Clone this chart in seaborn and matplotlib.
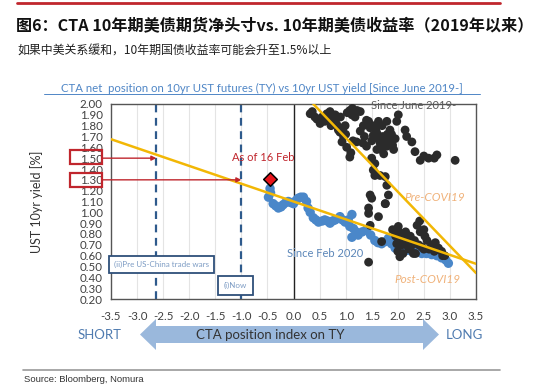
import numpy as np
import pandas as pd
import seaborn as sns
import matplotlib.pyplot as plt
from matplotlib.patches import Rectangle, Polygon
from matplotlib.lines import Line2D

# since June 2019 (black dots)
pre_x = [0.32, 0.41, 0.51, 0.64, 0.70, 0.76, 0.83, 0.89, 0.93, 0.96, 1.08, 1.08, 1.18, 1.21, 1.28,
         1.28, 1.40, 1.40, 1.44, 1.47, 1.50, 1.53, 1.56, 1.60, 1.66, 1.66, 1.73, 1.76, 1.79, 1.79,
         1.85, 1.92, 1.95, 2.01, 2.14, 2.27, 2.33, 2.43, 2.59, 2.75, 3.10, 1.53, 1.56, 1.76, 1.79,
         1.82, 1.76, 1.47, 1.50, 1.44, 1.44, 1.63, 1.47, 1.69, 2.01, 2.04, 1.98, 2.11, 2.24, 2.20,
         2.37, 2.43, 2.56, 2.65, 2.46, 2.04, 2.30, 2.78, 2.84, 1.44, 1.95, 2.14, 0.58, 0.99, 1.12,
         1.34, 1.62, 2.17, 2.50, 2.70, 2.90,
         0.36, 0.45, 0.55, 0.60, 0.68, 0.72, 0.80, 0.86, 0.95, 1.00, 1.03, 1.13, 1.15, 1.22, 0.80,
         0.90, 1.02, 1.10, 1.14, 1.33, 1.36, 1.50, 1.55, 1.58, 1.63, 1.70, 1.71, 1.82, 1.88, 1.90,
         1.98, 1.68, 1.60, 1.74, 1.80,
         1.90, 1.96, 2.06, 2.08, 2.15, 2.18, 2.28, 2.32, 2.40, 2.50, 2.52, 2.60, 2.70, 2.72, 2.86,
         2.00, 2.10, 2.22, 2.34, 2.42, 2.50]
pre_y = [1.91, 1.88, 1.82, 1.91, 1.93, 1.87, 1.81, 1.74, 1.65, 1.70, 1.94, 1.51, 1.88, 1.65, 1.75,
         1.93, 1.85, 1.61, 1.84, 1.78, 1.50, 1.71, 1.45, 1.73, 1.64, 1.34, 1.54, 1.33, 1.84, 1.61,
         1.76, 1.58, 1.68, 1.90, 1.76, 1.65, 1.56, 1.48, 1.50, 1.53, 1.48, 1.39, 1.34, 1.08, 1.25,
         1.16, 1.08, 1.16, 1.13, 1.04, 0.99, 0.96, 0.88, 0.73, 0.87, 0.81, 0.71, 0.74, 0.78, 0.68,
         0.88, 0.82, 0.74, 0.70, 0.68, 0.59, 0.62, 0.67, 0.64, 0.54, 0.81, 0.79, 1.86, 1.80, 1.90,
         1.80, 1.68, 1.70, 1.52, 1.50, 0.60,
         1.93, 1.86, 1.88, 1.84, 1.85, 1.80, 1.84, 1.76, 1.78, 1.72, 1.92, 1.96, 1.91, 1.94, 1.90,
         1.88, 1.60, 1.55, 1.66, 1.64, 1.70, 1.66, 1.80, 1.76, 1.84, 1.80, 1.70, 1.66, 1.72, 1.62,
         1.84, 1.58, 1.58, 1.64, 1.72,
         0.84, 0.78, 0.76, 0.70, 0.82, 0.72, 0.70, 0.74, 0.70, 0.66, 0.78, 0.66, 0.64, 0.72, 0.60,
         0.64, 0.62, 0.66, 0.62, 0.92, 0.84]

# since Feb 2020 (blue dots)
post_x = [-0.45, -0.48, -0.44, -0.39, -0.34, -0.29, -0.24, -0.20, -0.15, -0.10, -0.05, 0.00, 0.05,
          0.09, 0.14, 0.19, 0.25, 0.28, 0.32, 0.38, 0.43, 0.48, 0.55, 0.60, 0.65, 0.70, 0.75, 0.80,
          0.89, 0.94, 0.99, 1.05, 1.08, 1.12, 1.12, 1.15, 1.20, 1.24, 1.32, 1.40, 1.48, 1.56, 1.62,
          1.69, 1.76, 1.82, 1.88, 1.95, 2.03, 2.11, 2.19, 2.27, 2.36, 2.46, 2.55, 2.65, 2.75, 2.84,
          2.92, 2.97]
post_y = [1.22, 1.14, 1.18, 1.08, 1.06, 1.04, 1.05, 1.07, 1.09, 1.10, 1.09, 1.08, 1.11, 1.13, 1.14,
          1.14, 1.10, 1.04, 1.00, 0.95, 0.93, 0.91, 0.92, 0.93, 0.92, 0.90, 0.92, 0.93, 0.96, 0.93,
          0.91, 0.93, 0.87, 0.98, 0.77, 0.85, 0.82, 0.79, 0.82, 0.84, 0.79, 0.74, 0.72, 0.71, 0.73,
          0.76, 0.71, 0.67, 0.66, 0.65, 0.65, 0.64, 0.63, 0.62, 0.62, 0.61, 0.60, 0.58, 0.56, 0.53]

# trend lines
postcovid_x = [-3.5, 3.5]
postcovid_y = [1.675, 0.525]
precovid_x = [0.38, 3.5]
precovid_y = [2.0, 0.44]

scenario_x = [-2.63, -1.0]
scenario_y = [1.50, 1.30]
latest = (-0.46, 1.31)

W, H = 550, 389
fig = plt.figure(figsize=(W / 100, H / 100), dpi=100)
sns.set_style('white')
plt.rcParams['font.family'] = ['Lato', 'DejaVu Sans']
cjk = ['Noto Sans CJK SC', 'DejaVu Sans']


def fx(px):
    return px / W


def fy(py):
    return 1 - py / H


ax = fig.add_axes([fx(111), fy(299), fx(476) - fx(111), fy(104) - fy(299)])

ax.set_xlim(-3.5, 3.5)
ax.set_ylim(0.2, 2.0)
for gx in np.arange(-3.0, 3.51, 0.5):
    ax.axvline(gx, color='#e4e4e4', lw=0.8, zorder=0)
ax.axvline(0, color='#222222', lw=1.0, zorder=1)

for v in scenario_x:
    ax.axvline(v, color='#2e5a8c', lw=1.6, ls=(0, (3.5, 2.5)), zorder=2)

sns.scatterplot(x=post_x, y=post_y, ax=ax, color='#4a87c9', s=46, edgecolor='none', zorder=3)
sns.scatterplot(x=pre_x, y=pre_y, ax=ax, color='#2b2b2b', s=40, edgecolor='none', zorder=3)
sns.lineplot(x=postcovid_x, y=postcovid_y, ax=ax, color='#f2b705', lw=1.8, zorder=4)
sns.lineplot(x=precovid_x, y=precovid_y, ax=ax, color='#f2b705', lw=1.8, zorder=4)

ax.scatter([latest[0]], [latest[1]], marker='D', s=48, color='#e8141b', edgecolor='black',
           linewidth=1.1, zorder=6)
ax.text(-1.18, 1.51, 'As of 16 Feb', color='#c0262d', fontsize=8, ha='left', va='center')
ax.text(2.3, 1.985, 'Since June 2019-', color='#5a5a5a', fontsize=8, ha='center', va='center',
        zorder=7)
ax.text(2.12, 1.14, 'Pre-COVI19', color='#f0b27a', fontsize=8.5, style='italic', ha='left', va='center')
ax.text(1.93, 0.38, 'Post-COVI19', color='#f0b27a', fontsize=8.5, style='italic', ha='left', va='center')
ax.text(-0.12, 0.62, 'Since Feb 2020', color='#5b86b8', fontsize=8, ha='left', va='center', zorder=7)

# scenario boxes
ax.text(-3.44, 0.515, '(ii)Pre US-China trade wars', color='#7d9cc4', fontsize=5.8, ha='left', va='center',
        bbox=dict(boxstyle='square,pad=0.6', fc='white', ec='#2e4f7a', lw=1.3), clip_on=False, zorder=8)
ax.text(-1.34, 0.325, '(i)Now', color='#7d9cc4', fontsize=5.8, ha='left', va='center',
        bbox=dict(boxstyle='square,pad=0.75', fc='white', ec='#2e4f7a', lw=1.3), clip_on=False, zorder=8)

# red arrows from the boxed tick labels
for sx, sy in zip(scenario_x, scenario_y):
    ax.annotate('', xy=(sx, sy), xytext=(-3.68, sy), xycoords='data', annotation_clip=False,
                arrowprops=dict(arrowstyle='-|>', color='#c0262d', lw=1.0, mutation_scale=7,
                                shrinkA=0, shrinkB=0), zorder=5)

ax.set_yticks(np.round(np.arange(0.2, 2.001, 0.1), 2))
ax.set_yticklabels(['%.2f' % t for t in np.arange(0.2, 2.001, 0.1)])
ax.set_xticks(np.arange(-3.5, 3.51, 0.5))
ax.set_xticklabels(['%.1f' % t for t in np.arange(-3.5, 3.51, 0.5)])
ax.tick_params(axis='y', labelsize=8.3, length=0, pad=6, labelcolor='#404040')
ax.tick_params(axis='x', labelsize=8.3, length=0, pad=9, labelcolor='#404040')
ax.set_ylabel('UST 10yr yield [%]', fontsize=9, color='#333333')
ax.yaxis.set_label_coords((43 - 111) / 365, 0.5)
for sp in ax.spines.values():
    sp.set_color('#555555')
    sp.set_linewidth(1.0)

for py0 in (150, 173):
    fig.patches.append(Rectangle((fx(70), fy(py0 + 13.5)), fx(32), 13.5 / H, transform=fig.transFigure,
                                 fill=False, ec='#c0262d', lw=1.6))

# direction arrow under the axis
band_top, band_bot, head_top, head_bot = 326, 343, 319, 350
xs_l, xe_l, xe_r, xs_r = 140, 156, 423, 439
pts = [(xs_l, (head_top + head_bot) / 2), (xe_l, head_top), (xe_l, band_top), (xe_r, band_top),
       (xe_r, head_top), (xs_r, (head_top + head_bot) / 2), (xe_r, head_bot), (xe_r, band_bot),
       (xe_l, band_bot), (xe_l, head_bot)]
fig.patches.append(Polygon([(fx(a), fy(b)) for a, b in pts], closed=True, transform=fig.transFigure,
                           fc='#9ab8dc', ec='none'))
fig.text(fx(270), fy(335), 'CTA position index on TY', fontsize=9.5, color='#333333', ha='center', va='center')
fig.text(fx(78), fy(335), 'SHORT', fontsize=9.5, color='#4f7bb0', ha='left', va='center')
fig.text(fx(446), fy(335), 'LONG', fontsize=9.5, color='#4f7bb0', ha='left', va='center')

# chart title
fig.text(fx(262), fy(88), 'CTA net  position on 10yr UST futures (TY) vs 10yr UST yield [Since June 2019-]',
         fontsize=8.2, color='#4f86c6', ha='center', va='center')
fig.lines.append(Line2D([fx(44), fx(480)], [fy(94), fy(94)], transform=fig.transFigure, color='#4f86c6', lw=0.7))

# header and footer
fig.lines.append(Line2D([fx(17), fx(500)], [fy(3), fy(3)], transform=fig.transFigure, color='#c0262d', lw=2.0))
fig.text(fx(16), fy(26), '图6：CTA 10年期美债期货净头寸vs. 10年期美债收益率（2019年以来）', family=cjk,
         fontsize=11.6, fontweight='bold', color='#111111', ha='left', va='center')
fig.text(fx(17), fy(51), '如果中美关系缓和，10年期国债收益率可能会升至1.5%以上', family=cjk,
         fontsize=8.6, color='#222222', ha='left', va='center')
fig.lines.append(Line2D([fx(23), fx(500)], [fy(370), fy(370)], transform=fig.transFigure, color='#999999', lw=1.2))
fig.text(fx(24), fy(379), 'Source: Bloomberg, Nomura', family=['Liberation Sans', 'DejaVu Sans'],
         fontsize=6.8, color='#333333', ha='left', va='center')

fig.savefig('out.png', dpi=100)
